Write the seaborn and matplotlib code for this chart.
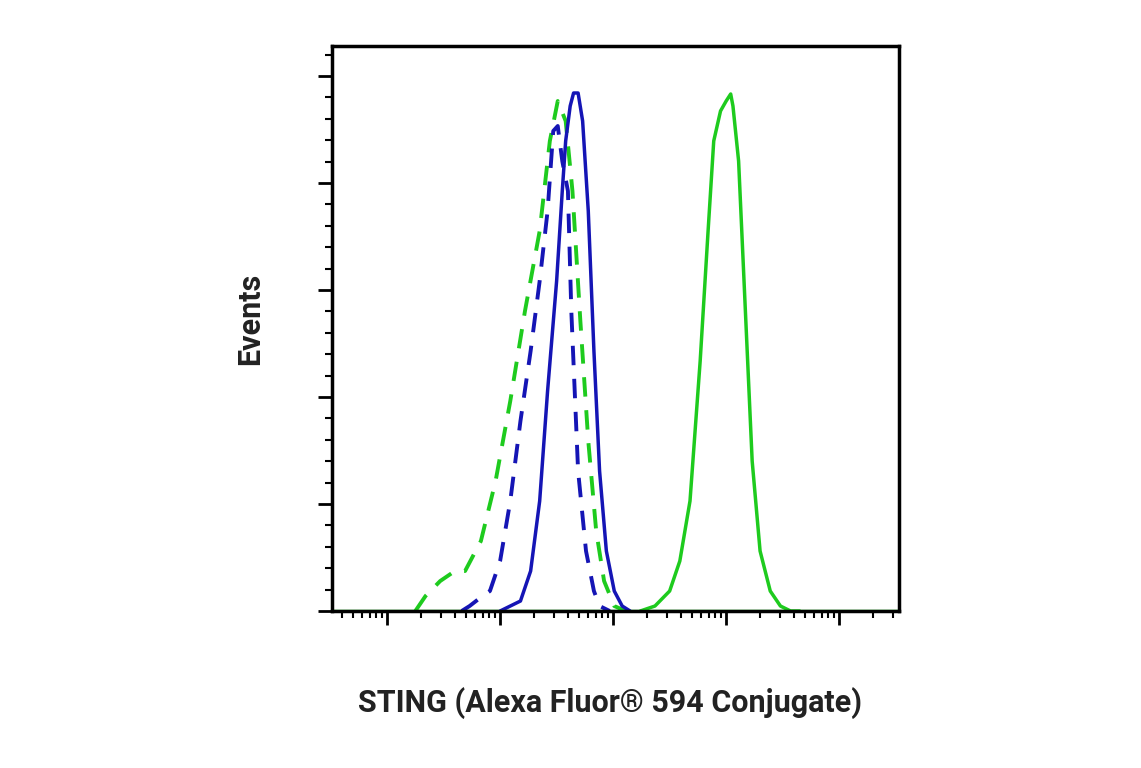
import numpy as np
import pandas as pd
import seaborn as sns
import matplotlib.pyplot as plt
import matplotlib.ticker as ticker

# Values: log10 intensity and event counts (arbitrary units)
green_solid_x = [3.24, 3.37, 3.5, 3.59, 3.68, 3.77, 3.84, 3.89, 3.95, 4.0, 4.04, 4.06, 4.11, 4.17, 4.23, 4.3, 4.39, 4.48, 4.57, 4.65]
green_solid_y = [0, 5, 20, 50, 110, 250, 380, 470, 500, 510, 517, 505, 450, 300, 150, 60, 20, 5, 0, 0]
blue_solid_x = [2.0, 2.09, 2.18, 2.27, 2.35, 2.42, 2.5, 2.55, 2.58, 2.62, 2.65, 2.69, 2.73, 2.78, 2.83, 2.88, 2.94, 3.01, 3.08, 3.15]
blue_solid_y = [0, 5, 10, 40, 110, 220, 330, 420, 470, 505, 518, 518, 490, 400, 260, 140, 60, 20, 5, 0]
blue_dash_x = [1.66, 1.73, 1.81, 1.91, 2.0, 2.09, 2.18, 2.27, 2.35, 2.42, 2.47, 2.51, 2.55, 2.6, 2.63, 2.69, 2.76, 2.83, 2.88, 2.97]
blue_dash_y = [0, 5, 12, 20, 50, 110, 190, 260, 330, 400, 480, 485, 450, 420, 300, 140, 60, 20, 5, 0]
green_dash_x = [1.25, 1.34, 1.47, 1.6, 1.69, 1.83, 1.96, 2.09, 2.22, 2.35, 2.44, 2.51, 2.58, 2.64, 2.71, 2.78, 2.85, 2.92, 3.01, 3.11]
green_dash_y = [0, 15, 30, 40, 40, 70, 130, 210, 300, 380, 470, 510, 490, 420, 290, 170, 80, 30, 5, 0]

green = '#1ecb1e'
blue = '#1515b5'

sns.set_style('ticks')
fig = plt.figure(figsize=(11.41, 7.68), dpi=100)
ax = fig.add_axes([0.291, 0.2044, 0.497, 0.7357])

ax.plot(10 ** np.array([0.5, 5.6]), [0, 0], color=green, lw=2.5)
ax.plot(10 ** np.array([3.3, 5.6]), [0, 0], color=blue, lw=2, alpha=0.6)
sns.lineplot(x=10 ** np.array(green_dash_x), y=green_dash_y, ax=ax, color=green, lw=2.8, linestyle=(0, (5, 3.5)))
sns.lineplot(x=10 ** np.array(blue_dash_x), y=blue_dash_y, ax=ax, color=blue, lw=2.8, linestyle=(0, (5, 3.5)))
sns.lineplot(x=10 ** np.array(blue_solid_x), y=blue_solid_y, ax=ax, color=blue, lw=2.5)
sns.lineplot(x=10 ** np.array(green_solid_x), y=green_solid_y, ax=ax, color=green, lw=2.5)

ax.set_xscale('log')
ax.set_xlim(10 ** 0.513, 10 ** 5.53)
ax.set_ylim(0, 565)
ax.xaxis.set_major_locator(ticker.LogLocator(base=10, numticks=20))
ax.xaxis.set_minor_locator(ticker.LogLocator(base=10, subs=np.arange(2, 10), numticks=20))
ax.yaxis.set_major_locator(ticker.MultipleLocator(107))
ax.yaxis.set_minor_locator(ticker.MultipleLocator(107 / 5))
ax.xaxis.set_major_formatter(ticker.NullFormatter())
ax.xaxis.set_minor_formatter(ticker.NullFormatter())
ax.yaxis.set_major_formatter(ticker.NullFormatter())
ax.tick_params(which='major', length=10, width=2, direction='out', color='black')
ax.tick_params(which='minor', length=5, width=1.5, direction='out', color='black')
for s in ax.spines.values():
    s.set_linewidth(2.5)
    s.set_color('black')

font = ['Roboto', 'DejaVu Sans']
fig.text(0.535, 0.085, 'STING (Alexa Fluor® 594 Conjugate)', ha='center', va='center',
         fontsize=22, fontweight='bold', family=font, color='#222222')
fig.text(0.219, 0.585, 'Events', ha='center', va='center', rotation=90,
         fontsize=22, fontweight='bold', family=font, color='#222222')

fig.savefig('out.png', dpi=100)
